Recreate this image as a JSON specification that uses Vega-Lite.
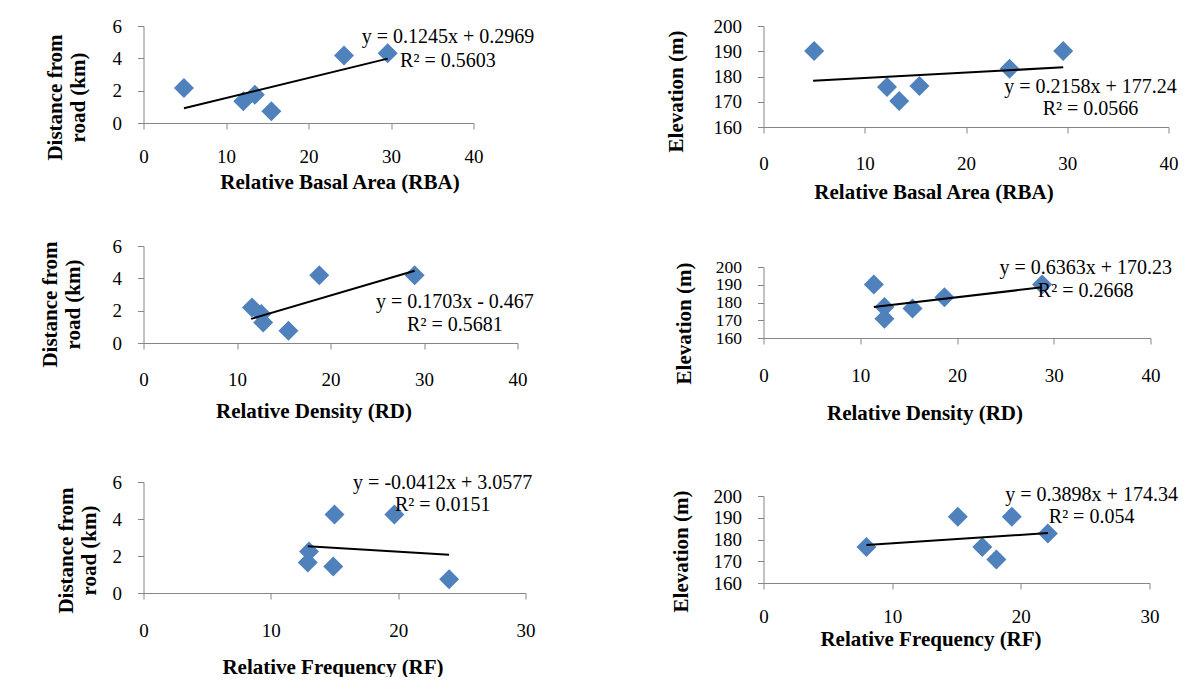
{
  "$schema": "https://vega.github.io/schema/vega-lite/v6.json",
  "padding": {"left": 39.5, "top": 17, "right": 0, "bottom": 0},
  "background": "white",
  "datasets": {
    "pts": [
      {"panel": "L1", "x": 4.9, "y": 2.17}, {"panel": "L1", "x": 12.1, "y": 1.34}, {"panel": "L1", "x": 13.5, "y": 1.74},
      {"panel": "L1", "x": 15.5, "y": 0.72}, {"panel": "L1", "x": 24.3, "y": 4.18}, {"panel": "L1", "x": 29.6, "y": 4.32},
      {"panel": "R1", "x": 5.0, "y": 190.1}, {"panel": "R1", "x": 12.2, "y": 175.8}, {"panel": "R1", "x": 13.4, "y": 170.3},
      {"panel": "R1", "x": 15.4, "y": 176.2}, {"panel": "R1", "x": 24.3, "y": 183.1}, {"panel": "R1", "x": 29.6, "y": 190.1},
      {"panel": "L2", "x": 11.6, "y": 2.2}, {"panel": "L2", "x": 12.6, "y": 1.79}, {"panel": "L2", "x": 12.8, "y": 1.27},
      {"panel": "L2", "x": 15.5, "y": 0.76}, {"panel": "L2", "x": 18.8, "y": 4.19}, {"panel": "L2", "x": 29.0, "y": 4.19},
      {"panel": "R2", "x": 11.4, "y": 190.2}, {"panel": "R2", "x": 12.5, "y": 177.4}, {"panel": "R2", "x": 12.5, "y": 170.9},
      {"panel": "R2", "x": 15.4, "y": 176.6}, {"panel": "R2", "x": 18.7, "y": 183.0}, {"panel": "R2", "x": 28.8, "y": 190.2},
      {"panel": "L3", "x": 13.0, "y": 2.24}, {"panel": "L3", "x": 12.9, "y": 1.65}, {"panel": "L3", "x": 15.0, "y": 4.24},
      {"panel": "L3", "x": 14.9, "y": 1.43}, {"panel": "L3", "x": 19.7, "y": 4.24}, {"panel": "L3", "x": 24.0, "y": 0.75},
      {"panel": "R3", "x": 8.0, "y": 176.6}, {"panel": "R3", "x": 15.1, "y": 190.5}, {"panel": "R3", "x": 17.0, "y": 176.6},
      {"panel": "R3", "x": 18.1, "y": 170.8}, {"panel": "R3", "x": 19.3, "y": 190.5}, {"panel": "R3", "x": 22.1, "y": 182.8}
    ],
    "trend": [
      {"panel": "L1", "x": 4.9, "y": 0.907}, {"panel": "L1", "x": 29.6, "y": 3.982},
      {"panel": "R1", "x": 4.9, "y": 178.30}, {"panel": "R1", "x": 29.6, "y": 183.63},
      {"panel": "L2", "x": 11.5, "y": 1.491}, {"panel": "L2", "x": 29.0, "y": 4.472},
      {"panel": "R2", "x": 11.4, "y": 177.48}, {"panel": "R2", "x": 28.8, "y": 188.56},
      {"panel": "L3", "x": 12.9, "y": 2.526}, {"panel": "L3", "x": 24.0, "y": 2.069},
      {"panel": "R3", "x": 8.0, "y": 177.46}, {"panel": "R3", "x": 22.1, "y": 182.96}
    ],
    "eq": [
      {"panel": "L1", "label": ["y = 0.1245x + 0.2969", "R² = 0.5603"]},
      {"panel": "L2", "label": ["y = 0.1703x - 0.467", "R² = 0.5681"]},
      {"panel": "L3", "label": ["y = -0.0412x + 3.0577", "R² = 0.0151"]},
      {"panel": "R1", "label": ["y = 0.2158x + 177.24", "R² = 0.0566"]},
      {"panel": "R2", "label": ["y = 0.6363x + 170.23", "R² = 0.2668"]},
      {"panel": "R3", "label": ["y = 0.3898x + 174.34", "R² = 0.054"]}
    ]
  },
  "config": {
    "view": {"stroke": null},
    "font": "Liberation Serif",
    "axis": {
      "grid": false, "domainColor": "#868686", "tickColor": "#868686", "tickSize": 6, "tickCount": 20,
      "labelFont": "Liberation Serif", "labelFontSize": 19, "labelColor": "#000",
      "titleFont": "Liberation Serif", "titleFontSize": 21, "titleFontWeight": "bold", "titleColor": "#000",
      "labelFlush": false, "labelOverlap": false, "format": "d"
    },
    "axisX": {"titleAngle": 0, "titleAlign": "center", "titleBaseline": "middle"},
    "axisY": {"titleAngle": -90, "titleAlign": "center", "titleBaseline": "middle", "titleLineHeight": 23, "labelPadding": 16},
    "text": {"font": "Liberation Serif", "fontSize": 20, "lineHeight": 23, "align": "center", "baseline": "middle", "color": "#000"}
  },
  "spacing": 130,
  "hconcat": [
    {
      "spacing": 45,
      "vconcat": [
        {
          "width": 330, "height": 97,
          "layer": [
            {"data": {"name": "pts"}, "transform": [{"filter": "datum.panel === 'L1'"}],
             "mark": {"type": "point", "shape": "diamond", "filled": true, "size": 400, "color": "#4F81BD", "opacity": 1},
             "encoding": {
               "x": {"field": "x", "type": "quantitative", "scale": {"domain": [0, 40], "nice": false},
                     "axis": {"title": "Relative Basal Area (RBA)", "values": [0, 10, 20, 30, 40], "format": "d", "tickCount": 20, "labelPadding": 18, "titleX": 196, "titleY": 59}},
               "y": {"field": "y", "type": "quantitative", "scale": {"domain": [0, 6], "nice": false},
                     "axis": {"title": ["Distance from", "road (km)"], "values": [0, 2, 4, 6], "format": "d", "tickCount": 20, "titleX": -88, "titleY": 71}}
             }},
            {"data": {"name": "trend"}, "transform": [{"filter": "datum.panel === 'L1'"}],
             "mark": {"type": "line", "color": "#000", "strokeWidth": 2},
             "encoding": {"x": {"field": "x", "type": "quantitative"}, "y": {"field": "y", "type": "quantitative"}}},
            {"data": {"name": "eq"}, "transform": [{"filter": "datum.panel === 'L1'"}],
             "mark": {"type": "text", "lineHeight": 24},
             "encoding": {"x": {"datum": 36.9, "type": "quantitative"}, "y": {"datum": 5.3, "type": "quantitative"}, "text": {"field": "label"}}}
          ]
        },
        {
          "spacing": 51,
          "vconcat": [
            {
              "width": 374, "height": 97,
              "layer": [
                {"data": {"name": "pts"}, "transform": [{"filter": "datum.panel === 'L2'"}],
                 "mark": {"type": "point", "shape": "diamond", "filled": true, "size": 400, "color": "#4F81BD", "opacity": 1},
                 "encoding": {
                   "x": {"field": "x", "type": "quantitative", "scale": {"domain": [0, 40], "nice": false},
                         "axis": {"title": "Relative Density (RD)", "values": [0, 10, 20, 30, 40], "format": "d", "tickCount": 20, "labelPadding": 21, "titleX": 170, "titleY": 68}},
                   "y": {"field": "y", "type": "quantitative", "scale": {"domain": [0, 6], "nice": false},
                         "axis": {"title": ["Distance from", "road (km)"], "values": [0, 2, 4, 6], "format": "d", "tickCount": 20, "titleX": -93, "titleY": 58}}
                 }},
                {"data": {"name": "trend"}, "transform": [{"filter": "datum.panel === 'L2'"}],
                 "mark": {"type": "line", "color": "#000", "strokeWidth": 2},
                 "encoding": {"x": {"field": "x", "type": "quantitative"}, "y": {"field": "y", "type": "quantitative"}}},
                {"data": {"name": "eq"}, "transform": [{"filter": "datum.panel === 'L2'"}],
                 "mark": {"type": "text"},
                 "encoding": {"x": {"datum": 33.3, "type": "quantitative"}, "y": {"datum": 2.51, "type": "quantitative"}, "text": {"field": "label"}}}
              ]
            },
            {
              "width": 382, "height": 111,
              "layer": [
                {"data": {"name": "pts"}, "transform": [{"filter": "datum.panel === 'L3'"}],
                 "mark": {"type": "point", "shape": "diamond", "filled": true, "size": 400, "color": "#4F81BD", "opacity": 1},
                 "encoding": {
                   "x": {"field": "x", "type": "quantitative", "scale": {"domain": [0, 30], "nice": false},
                         "axis": {"title": "Relative Frequency (RF)", "values": [0, 10, 20, 30], "format": "d", "tickCount": 20, "labelPadding": 22, "titleX": 189, "titleY": 74}},
                   "y": {"field": "y", "type": "quantitative", "scale": {"domain": [0, 6], "nice": false},
                         "axis": {"title": ["Distance from", "road  (km)"], "values": [0, 2, 4, 6], "format": "d", "tickCount": 20, "titleX": -77, "titleY": 68}}
                 }},
                {"data": {"name": "trend"}, "transform": [{"filter": "datum.panel === 'L3'"}],
                 "mark": {"type": "line", "color": "#000", "strokeWidth": 2},
                 "encoding": {"x": {"field": "x", "type": "quantitative"}, "y": {"field": "y", "type": "quantitative"}}},
                {"data": {"name": "eq"}, "transform": [{"filter": "datum.panel === 'L3'"}],
                 "mark": {"type": "text", "lineHeight": 22},
                 "encoding": {"x": {"datum": 23.5, "type": "quantitative"}, "y": {"datum": 5.96, "type": "quantitative"}, "text": {"field": "label"}}}
              ]
            }
          ]
        }
      ]
    },
    {
      "spacing": 55,
      "vconcat": [
        {
          "width": 405, "height": 101,
          "layer": [
            {"data": {"name": "pts"}, "transform": [{"filter": "datum.panel === 'R1'"}],
             "mark": {"type": "point", "shape": "diamond", "filled": true, "size": 400, "color": "#4F81BD", "opacity": 1},
             "encoding": {
               "x": {"field": "x", "type": "quantitative", "scale": {"domain": [0, 40], "nice": false},
                     "axis": {"title": "Relative Basal Area (RBA)", "values": [0, 10, 20, 30, 40], "format": "d", "tickCount": 20, "labelPadding": 21, "titleX": 170, "titleY": 65}},
               "y": {"field": "y", "type": "quantitative", "scale": {"domain": [160, 200], "nice": false, "zero": false},
                     "axis": {"title": "Elevation (m)", "values": [160, 170, 180, 190, 200], "format": "d", "tickCount": 20, "titleX": -87, "titleY": 65}}
             }},
            {"data": {"name": "trend"}, "transform": [{"filter": "datum.panel === 'R1'"}],
             "mark": {"type": "line", "color": "#000", "strokeWidth": 2},
             "encoding": {"x": {"field": "x", "type": "quantitative"}, "y": {"field": "y", "type": "quantitative"}}},
            {"data": {"name": "eq"}, "transform": [{"filter": "datum.panel === 'R1'"}],
             "mark": {"type": "text", "lineHeight": 22},
             "encoding": {"x": {"datum": 32.3, "type": "quantitative"}, "y": {"datum": 175.84, "type": "quantitative"}, "text": {"field": "label"}}}
          ]
        },
        {
          "spacing": 62,
          "vconcat": [
            {
              "width": 387, "height": 71,
              "layer": [
                {"data": {"name": "pts"}, "transform": [{"filter": "datum.panel === 'R2'"}],
                 "mark": {"type": "point", "shape": "diamond", "filled": true, "size": 400, "color": "#4F81BD", "opacity": 1},
                 "encoding": {
                   "x": {"field": "x", "type": "quantitative", "scale": {"domain": [0, 40], "nice": false},
                         "axis": {"title": "Relative Density (RD)", "values": [0, 10, 20, 30, 40], "format": "d", "tickCount": 20, "labelPadding": 22, "titleX": 161, "titleY": 75}},
                   "y": {"field": "y", "type": "quantitative", "scale": {"domain": [160, 200], "nice": false, "zero": false},
                         "axis": {"title": "Elevation (m)", "values": [160, 170, 180, 190, 200], "format": "d", "tickCount": 20, "labelFontSize": 17.5, "titleX": -79, "titleY": 56}}
                 }},
                {"data": {"name": "trend"}, "transform": [{"filter": "datum.panel === 'R2'"}],
                 "mark": {"type": "line", "color": "#000", "strokeWidth": 2},
                 "encoding": {"x": {"field": "x", "type": "quantitative"}, "y": {"field": "y", "type": "quantitative"}}},
                {"data": {"name": "eq"}, "transform": [{"filter": "datum.panel === 'R2'"}],
                 "mark": {"type": "text"},
                 "encoding": {"x": {"datum": 33.3, "type": "quantitative"}, "y": {"datum": 199.6, "type": "quantitative"}, "text": {"field": "label"}}}
              ]
            },
            {
              "width": 386, "height": 87,
              "layer": [
                {"data": {"name": "pts"}, "transform": [{"filter": "datum.panel === 'R3'"}],
                 "mark": {"type": "point", "shape": "diamond", "filled": true, "size": 400, "color": "#4F81BD", "opacity": 1},
                 "encoding": {
                   "x": {"field": "x", "type": "quantitative", "scale": {"domain": [0, 30], "nice": false},
                         "axis": {"title": "Relative Frequency (RF)", "values": [0, 10, 20, 30], "format": "d", "tickCount": 20, "labelPadding": 18, "titleX": 167, "titleY": 56}},
                   "y": {"field": "y", "type": "quantitative", "scale": {"domain": [160, 200], "nice": false, "zero": false},
                         "axis": {"title": "Elevation (m)", "values": [160, 170, 180, 190, 200], "format": "d", "tickCount": 20, "titleX": -82, "titleY": 55}}
                 }},
                {"data": {"name": "trend"}, "transform": [{"filter": "datum.panel === 'R3'"}],
                 "mark": {"type": "line", "color": "#000", "strokeWidth": 2},
                 "encoding": {"x": {"field": "x", "type": "quantitative"}, "y": {"field": "y", "type": "quantitative"}}},
                {"data": {"name": "eq"}, "transform": [{"filter": "datum.panel === 'R3'"}],
                 "mark": {"type": "text", "lineHeight": 22},
                 "encoding": {"x": {"datum": 25.5, "type": "quantitative"}, "y": {"datum": 200.4, "type": "quantitative"}, "text": {"field": "label"}}}
              ]
            }
          ]
        }
      ]
    }
  ]
}
